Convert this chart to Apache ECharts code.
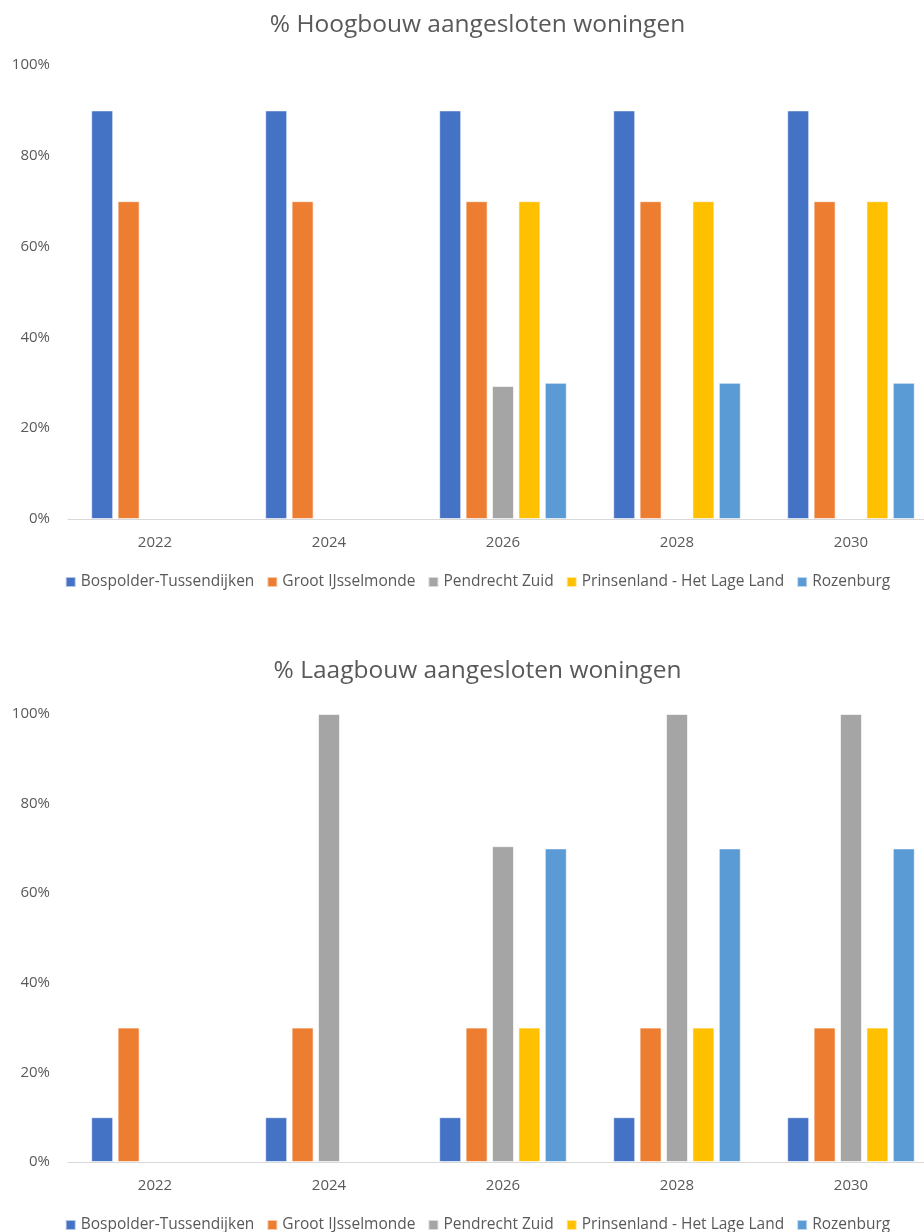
<!DOCTYPE html>
<html>
<head>
<meta charset="utf-8">
<style>
  html, body { margin: 0; padding: 0; background: #fff; overflow: hidden; }
  #chart { width: 955px; height: 1232px; }
</style>
<script src="https://cdn.jsdelivr.net/npm/echarts@6/dist/echarts.min.js"></script>
</head>
<body>
<div id="chart"></div>
<script>
// Jaren en wijken
const years = ['2022', '2024', '2026', '2028', '2030'];
const districts = ['Bospolder-Tussendijken', 'Groot IJsselmonde', 'Pendrecht Zuid', 'Prinsenland - Het Lage Land', 'Rozenburg'];
const colors = ['#4472C4', '#ED7D31', '#A5A5A5', '#FFC000', '#5B9BD5'];
const yTicks = [0, 20, 40, 60, 80, 100];

// % hoogbouw aangesloten woningen per wijk
const hoogBospolder   = [90, 90, 90, 90, 90];
const hoogIJsselmonde = [70, 70, 70, 70, 70];
const hoogPendrecht   = [null, null, 29.3, null, null];
const hoogPrinsenland = [null, null, 70, 70, 70];
const hoogRozenburg   = [null, null, 30, 30, 30];

// % laagbouw aangesloten woningen per wijk
const laagBospolder   = [10, 10, 10, 10, 10];
const laagIJsselmonde = [30, 30, 30, 30, 30];
const laagPendrecht   = [null, 100, 70.5, 100, 100];
const laagPrinsenland = [null, null, 30, 30, 30];
const laagRozenburg   = [null, null, 70, 70, 70];

const hoog = [hoogBospolder, hoogIJsselmonde, hoogPendrecht, hoogPrinsenland, hoogRozenburg];
const laag = [laagBospolder, laagIJsselmonde, laagPendrecht, laagPrinsenland, laagRozenburg];

const textColor = '#595959';
const font = 'Open Sans';

function xAxis(gridIndex) {
  return {
    type: 'category', gridIndex, data: years,
    axisLine: { lineStyle: { color: '#D9D9D9', width: 1 } },
    axisTick: { show: false },
    axisLabel: { color: textColor, fontSize: 15, fontFamily: font, margin: 16 }
  };
}
function yAxis(gridIndex) {
  return {
    type: 'value', gridIndex, min: yTicks[0], max: yTicks[yTicks.length - 1], interval: 20,
    splitLine: { show: false },
    axisLine: { show: false }, axisTick: { show: false },
    axisLabel: { color: textColor, fontSize: 15, fontFamily: font, margin: 18,
                 formatter: v => v + '%' }
  };
}
function series(values, idx) {
  return values.map((arr, i) => ({
    name: districts[i], type: 'bar', xAxisIndex: idx, yAxisIndex: idx,
    data: arr, barWidth: 22, barGap: '20%',
    itemStyle: { color: colors[i], borderColor: 'rgba(255,255,255,0.6)', borderWidth: 1 }
  }));
}
function legend(top) {
  return {
    top, left: 'center', itemWidth: 10, itemHeight: 10, itemGap: 12,
    icon: 'rect', data: districts,
    textStyle: { color: textColor, fontSize: 15.5, fontFamily: font }
  };
}

const chart = echarts.init(document.getElementById('chart'));
chart.setOption({
  animation: false,
  color: colors,
  title: [
    { text: '% Hoogbouw aangesloten woningen', left: 'center', top: 8,
      textStyle: { color: textColor, fontSize: 24.5, fontWeight: 'normal', fontFamily: font } },
    { text: '% Laagbouw aangesloten woningen', left: 'center', top: 654,
      textStyle: { color: textColor, fontSize: 24.5, fontWeight: 'normal', fontFamily: font } }
  ],
  legend: [legend(569), legend(1212)],
  grid: [
    { left: 68, right: 17, top: 65, height: 454 },
    { left: 68, right: 17, top: 714, height: 448 }
  ],
  xAxis: [xAxis(0), xAxis(1)],
  yAxis: [yAxis(0), yAxis(1)],
  series: [...series(hoog, 0), ...series(laag, 1)]
});
</script>
</body>
</html>
